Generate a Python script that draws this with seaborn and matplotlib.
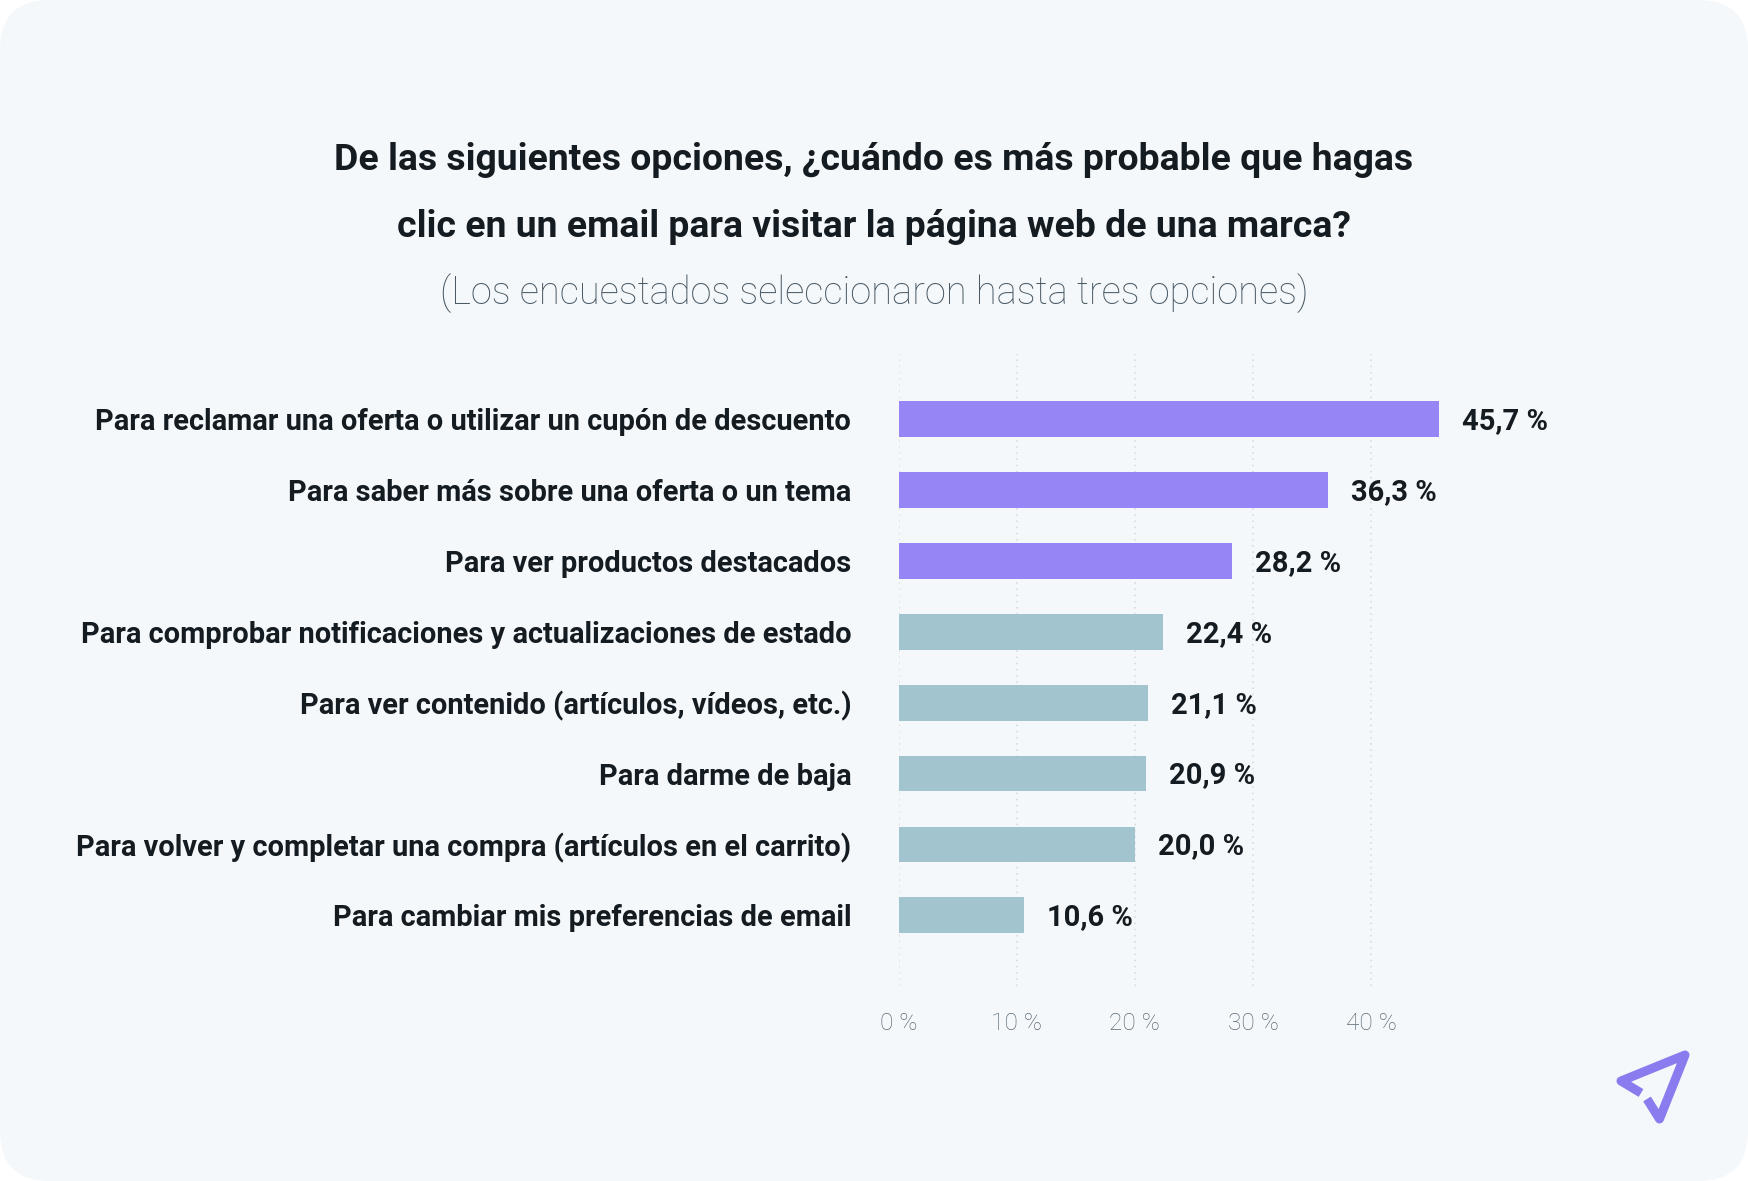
"""Email click reasons, horizontal bars
"""
import seaborn as sns
import pandas as pd
import matplotlib.pyplot as plt
from matplotlib.lines import Line2D
from matplotlib.patches import FancyBboxPatch

W, H = 1748, 1181

categories = [
    'Para reclamar una oferta o utilizar un cupón de descuento',
    'Para saber más sobre una oferta o un tema',
    'Para ver productos destacados',
    'Para comprobar notificaciones y actualizaciones de estado',
    'Para ver contenido (artículos, vídeos, etc.)',
    'Para darme de baja',
    'Para volver y completar una compra (artículos en el carrito)',
    'Para cambiar mis preferencias de email',
]
values = [45.7, 36.3, 28.2, 22.4, 21.1, 20.9, 20.0, 10.6]
groups = ['top', 'top', 'top', 'rest', 'rest', 'rest', 'rest', 'rest']
value_labels = ['45,7 %', '36,3 %', '28,2 %', '22,4 %', '21,1 %', '20,9 %', '20,0 %', '10,6 %']
x_ticks = [0, 10, 20, 30, 40]
x_tick_labels = ['0 %', '10 %', '20 %', '30 %', '40 %']
title_lines = [
    'De las siguientes opciones, ¿cuándo es más probable que hagas',
    'clic en un email para visitar la página web de una marca?',
]
subtitle = '(Los encuestados seleccionaron hasta tres opciones)'

BG = '#f4f8fb'
DARK = '#141b21'

sns.set_theme(style='white')
plt.rcParams['font.family'] = ['Roboto', 'DejaVu Sans']

fig = plt.figure(figsize=(W / 100, H / 100), dpi=100, facecolor='white')

# rounded card behind everything
card = FancyBboxPatch((0, 0), W, H, boxstyle='round,pad=0,rounding_size=50',
                      transform=None, facecolor=BG, edgecolor='none', zorder=-5)
fig.add_artist(card)

# axes placed so that 0 % and 50 % land on the same pixels as the original
ax = fig.add_axes([898.5 / W, 1 - 986 / H, 591 / W, 632 / H])
ax.patch.set_alpha(0)

df = pd.DataFrame({'category': categories, 'value': values, 'group': groups})
sns.barplot(data=df, x='value', y='category', hue='group', dodge=False, width=0.505,
            palette={'top': '#9685f5', 'rest': '#a2c4cf'}, legend=False, saturation=1,
            linewidth=0, ax=ax, zorder=3)

ax.set_xlim(0, 50)
ax.set_ylim(7.996, -0.917)
ax.set_xticks(x_ticks, x_tick_labels)
ax.set_xlabel('')
ax.set_ylabel('')
sns.despine(ax=ax, left=True, bottom=True)
ax.grid(False)
ax.xaxis.grid(True, color='#d5d9de', linewidth=1.1, linestyle=(0, (1, 3.05)), zorder=0)
ax.set_axisbelow(True)

ax.tick_params(axis='y', length=0, pad=34, labelsize=20.85)
ax.tick_params(axis='x', length=0, pad=18.5, labelsize=17.6, labelcolor='#5c6a76')
for lab in ax.get_yticklabels():
    lab.set_fontweight('bold')
    lab.set_color(DARK)
for lab in ax.get_xticklabels():
    lab.set_fontweight('light')

for i, (val, text) in enumerate(zip(values, value_labels)):
    ax.annotate(text, (val, i), xytext=(23, 1), textcoords='offset pixels', ha='left',
                va='center_baseline', fontsize=21, fontweight='bold', color=DARK)

for y_px, line in zip([156, 223], title_lines):
    fig.text(874 / W, 1 - y_px / H, line, ha='center', va='center_baseline',
             fontsize=26.9, fontweight='bold', color=DARK)
fig.text(874 / W, 1 - 289 / H, subtitle, ha='center', va='center_baseline',
         fontsize=27.4, fontweight='light', color='#4a5964')

# paper plane logo, drawn in figure pixels
logo_x = [1641, 1621, 1685, 1659.5, 1647]
logo_y = [1093, 1081, 1055, 1119, 1099]
fig.add_artist(Line2D([x / W for x in logo_x], [1 - y / H for y in logo_y],
                      transform=fig.transFigure, color='#8a7bee', linewidth=6.5,
                      solid_joinstyle='round', solid_capstyle='butt'))

fig.savefig('out.png', dpi=100, facecolor='white')
